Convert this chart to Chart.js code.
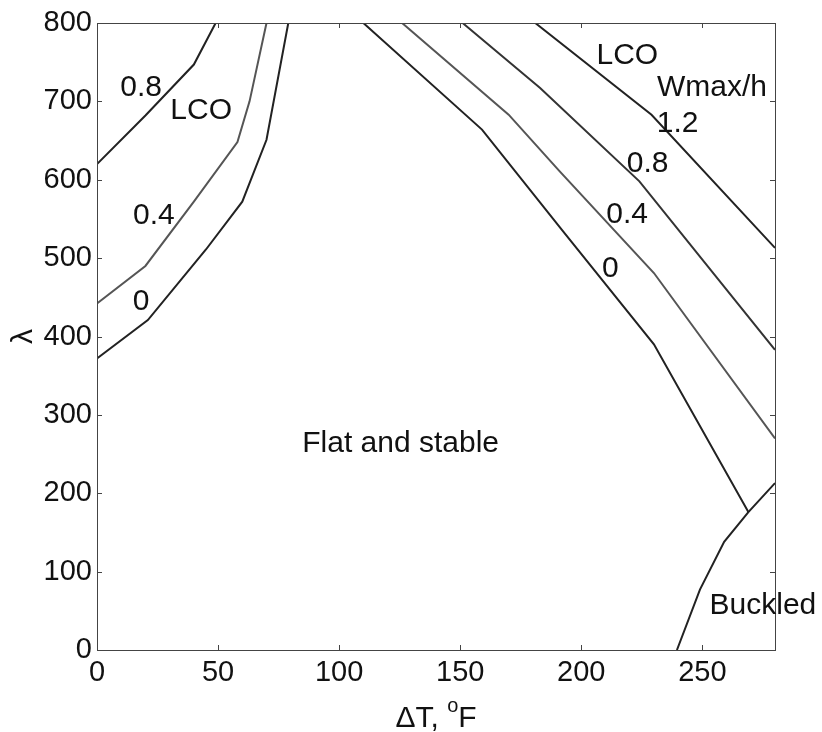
<!DOCTYPE html>
<html>
<head>
<meta charset="utf-8">
<script src="https://cdn.jsdelivr.net/npm/chart.js@4/dist/chart.umd.min.js"></script>
<style>
  html, body { margin: 0; padding: 0; background: #fff; }
  #wrap { width: 822px; height: 732px; }
</style>
</head>
<body>
<div id="wrap"><canvas id="stability"></canvas></div>
<script>
// Wmax/h contours, left (low dT) branch
const leftX08 = [0, 20, 40, 49];
const leftY08 = [620, 682, 747, 800];
const leftX04 = [0, 20, 40, 58, 63, 70];
const leftY04 = [442, 490, 572, 648, 700, 800];
const leftX00 = [0, 21, 45, 60, 70, 79];
const leftY00 = [372, 421, 511, 572, 651, 800];

// Wmax/h contours, right (high dT) branch
const rightX00 = [110, 159, 192, 230, 269];
const rightY00 = [800, 664, 536, 390, 176];
const rightX04 = [126, 170, 191, 230, 280];
const rightY04 = [800, 683, 611, 481, 270];
const rightX08 = [151, 183, 224, 280];
const rightY08 = [800, 717, 598, 383];
const rightX12 = [181, 229, 280];
const rightY12 = [800, 683, 513];

// buckling boundary
const buckleX = [239.5, 249, 259, 269, 280];
const buckleY = [0, 77, 138, 176, 213];

const xTicks = [0, 50, 100, 150, 200, 250];
const yTicks = [0, 100, 200, 300, 400, 500, 600, 700, 800];

// region / contour labels in (dT, lambda)
const notes = [
    { text: '0.8', x: 18.2, y: 717 },
    { text: 'LCO', x: 43, y: 688 },
    { text: '0.4', x: 23.5, y: 554 },
    { text: '0', x: 18.2, y: 444 },
    { text: 'LCO', x: 219, y: 758 },
    { text: 'Wmax/h', x: 254, y: 717 },
    { text: '1.2', x: 239.8, y: 671 },
    { text: '0.8', x: 227.4, y: 621 },
    { text: '0.4', x: 218.9, y: 555 },
    { text: '0', x: 212, y: 486 },
    { text: 'Flat and stable', x: 125.4, y: 263 },
    { text: 'Buckled', x: 275, y: 56 }
];

const FONT = '"Liberation Sans", Arial, Helvetica, sans-serif';

function toPoints(xs, ys) {
    return xs.map(function (x, i) { return { x: x, y: ys[i] }; });
}

function curve(xs, ys, color) {
    return {
        data: toPoints(xs, ys),
        showLine: true,
        borderColor: color,
        borderWidth: 2,
        pointRadius: 0,
        fill: false,
        tension: 0
    };
}

// box, inward ticks, text labels and axis titles
const decorations = {
    id: 'decorations',
    afterDraw: function (chart) {
        const c = chart.ctx;
        const a = chart.chartArea;
        const sx = chart.scales.x;
        const sy = chart.scales.y;
        c.save();

        c.strokeStyle = '#444';
        c.lineWidth = 1;
        c.strokeRect(a.left + 0.5, a.top + 0.5, a.right - a.left, a.bottom - a.top);

        const tl = 5;
        c.beginPath();
        xTicks.forEach(function (v) {
            const px = Math.round(sx.getPixelForValue(v)) + 0.5;
            c.moveTo(px, a.bottom); c.lineTo(px, a.bottom - tl);
            c.moveTo(px, a.top); c.lineTo(px, a.top + tl);
        });
        yTicks.forEach(function (v) {
            const py = Math.round(sy.getPixelForValue(v)) + 0.5;
            c.moveTo(a.left, py); c.lineTo(a.left + tl, py);
            c.moveTo(a.right, py); c.lineTo(a.right - tl, py);
        });
        c.stroke();

        c.fillStyle = '#111';
        c.font = '30px ' + FONT;
        c.textAlign = 'center';
        c.textBaseline = 'middle';
        notes.forEach(function (n) {
            c.fillText(n.text, sx.getPixelForValue(n.x), sy.getPixelForValue(n.y));
        });

        // x title: "ΔT, " + superscript o + "F"
        const big = '30px ' + FONT;
        const small = '20px ' + FONT;
        c.textBaseline = 'alphabetic';
        c.textAlign = 'left';
        c.font = big;
        const w1 = c.measureText('\u0394T, ').width;
        const w3 = c.measureText('F').width;
        c.font = small;
        const w2 = c.measureText('o').width;
        const cx = (a.left + a.right) / 2;
        let x0 = cx - (w1 + w2 + w3) / 2;
        const base = 727;
        c.font = big;
        c.fillText('\u0394T, ', x0, base);
        c.font = small;
        c.fillText('o', x0 + w1, base - 15);
        c.font = big;
        c.fillText('F', x0 + w1 + w2, base);

        // y title
        c.translate(24, sy.getPixelForValue(400));
        c.rotate(-Math.PI / 2);
        c.textAlign = 'center';
        c.textBaseline = 'middle';
        c.font = big;
        c.fillText('\u03bb', 0, 0);

        c.restore();
    }
};

const ctx = document.getElementById('stability');

new Chart(ctx, {
    type: 'scatter',
    data: {
        datasets: [
            curve(leftX08, leftY08, '#222'),
            curve(leftX04, leftY04, '#555'),
            curve(leftX00, leftY00, '#222'),
            curve(rightX00, rightY00, '#222'),
            curve(rightX04, rightY04, '#555'),
            curve(rightX08, rightY08, '#333'),
            curve(rightX12, rightY12, '#222'),
            curve(buckleX, buckleY, '#222')
        ]
    },
    options: {
        responsive: true,
        maintainAspectRatio: false,
        animation: false,
        layout: { padding: { top: 23, right: 47, left: 0, bottom: 0 } },
        plugins: {
            legend: { display: false },
            tooltip: { enabled: false }
        },
        scales: {
            x: {
                type: 'linear',
                min: 0,
                max: 280,
                afterFit: function (s) { s.height = 82; },
                afterBuildTicks: function (s) { s.ticks = xTicks.map(function (v) { return { value: v }; }); },
                grid: { display: false, drawTicks: false },
                border: { display: false },
                ticks: { padding: 6, color: '#111', font: { size: 29, family: FONT } }
            },
            y: {
                type: 'linear',
                min: 0,
                max: 800,
                afterFit: function (s) { s.width = 97; },
                afterBuildTicks: function (s) { s.ticks = yTicks.map(function (v) { return { value: v }; }); },
                grid: { display: false, drawTicks: false },
                border: { display: false },
                ticks: { padding: 5, color: '#111', font: { size: 29, family: FONT } }
            }
        }
    },
    plugins: [decorations]
});
</script>
</body>
</html>
